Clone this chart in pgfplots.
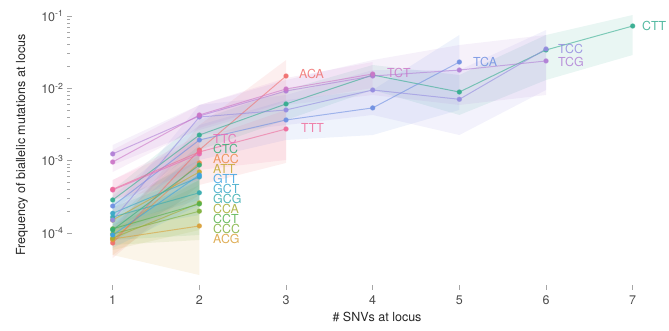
\documentclass[border=0pt]{standalone}
\usepackage{pgfplots}
\pgfplotsset{compat=1.18}
\usepackage{pgfplotstable}
\usepgfplotslibrary{fillbetween}
\usepackage{fontspec}
\setmainfont{TeX Gyre Heros}

\definecolor{cACA}{HTML}{F0706F}
\definecolor{cACC}{HTML}{EC8A48}
\definecolor{cACG}{HTML}{D9A03A}
\definecolor{cATT}{HTML}{C4A831}
\definecolor{cCCA}{HTML}{A6AC33}
\definecolor{cCCC}{HTML}{7FB03C}
\definecolor{cCCT}{HTML}{55B14A}
\definecolor{cCTC}{HTML}{36AE75}
\definecolor{cCTT}{HTML}{35AD90}
\definecolor{cGCG}{HTML}{37ABAE}
\definecolor{cGCT}{HTML}{39A8C8}
\definecolor{cGTT}{HTML}{3CA3E2}
\definecolor{cTCA}{HTML}{6F90E2}
\definecolor{cTCC}{HTML}{958CE0}
\definecolor{cTCG}{HTML}{B17FD6}
\definecolor{cTCT}{HTML}{CC77C8}
\definecolor{cTTC}{HTML}{E96BB6}
\definecolor{cTTT}{HTML}{EE6C9C}

\pgfplotstableread{
x y lo hi
1 7.27e-5 4.5e-5 1.03e-4
2 1.404e-3 4.61e-4 3.11e-3
3 1.48e-2 9.3e-4 2.46e-2
}\tACA
\pgfplotstableread{
x y lo hi
1 8.0e-5 4.96e-5 1.18e-4
2 9.3e-4 3.35e-4 2.26e-3
}\tACC
\pgfplotstableread{
x y lo hi
1 8.26e-5 4.96e-5 1.18e-4
2 1.25e-4 2.62e-5 3.35e-4
}\tACG
\pgfplotstableread{
x y lo hi
1 1.51e-4 9.38e-5 2.08e-4
2 6.98e-4 3.35e-4 1.197e-3
}\tATT
\pgfplotstableread{
x y lo hi
1 8.5e-5 5.82e-5 1.18e-4
2 2.6e-4 1.10e-4 5.4e-4
}\tCCA
\pgfplotstableread{
x y lo hi
1 9.68e-5 6.82e-5 1.29e-4
2 2.0e-4 8.0e-5 4.61e-4
}\tCCC
\pgfplotstableread{
x y lo hi
1 1.14e-4 8.0e-5 1.51e-4
2 2.52e-4 9.38e-5 5.4e-4
}\tCCT
\pgfplotstableread{
x y lo hi
1 1.10e-4 7.5e-5 1.51e-4
2 8.71e-4 3.93e-4 1.646e-3
}\tCTC
\pgfplotstableread{
x y lo hi
1 2.86e-4 2.08e-4 3.93e-4
2 2.26e-3 1.404e-3 3.65e-3
3 6.08e-3 3.65e-3 9.48e-3
4 1.528e-2 9.48e-3 2.10e-2
5 8.89e-3 4.28e-3 1.528e-2
6 3.39e-2 1.303e-2 5.46e-2
7 7.27e-2 2.89e-2 0.1032
}\tCTT
\pgfplotstableread{
x y lo hi
1 1.66e-4 1.10e-4 2.28e-4
2 3.6e-4 1.77e-4 6.33e-4
}\tGCG
\pgfplotstableread{
x y lo hi
1 1.87e-4 1.29e-4 2.6e-4
2 5.94e-4 2.86e-4 1.021e-3
}\tGCT
\pgfplotstableread{
x y lo hi
1 9.38e-5 6.2e-5 1.29e-4
2 6.33e-4 2.44e-4 1.404e-3
}\tGTT
\pgfplotstableread{
x y lo hi
1 2.36e-4 1.6e-4 3.25e-4
2 1.93e-3 1.021e-3 3.11e-3
3 3.65e-3 1.93e-3 6.90e-3
4 5.36e-3 2.26e-3 9.48e-3
5 2.31e-2 5.02e-3 5.46e-2
}\tTCA
\pgfplotstableread{
x y lo hi
1 1.51e-4 1.03e-4 2.08e-4
2 4.01e-3 2.26e-3 5.88e-3
3 5.02e-3 3.11e-3 8.08e-3
4 9.48e-3 4.28e-3 1.79e-2
5 7.05e-3 2.26e-3 1.79e-2
6 3.50e-2 9.48e-3 6.40e-2
}\tTCC
\pgfplotstableread{
x y lo hi
1 1.24e-3 8.71e-4 1.646e-3
2 4.14e-3 2.65e-3 5.88e-3
3 9.18e-3 5.88e-3 1.303e-2
4 1.48e-2 8.08e-3 2.46e-2
5 1.79e-2 5.88e-3 3.97e-2
6 2.39e-2 8.08e-3 5.46e-2
}\tTCG
\pgfplotstableread{
x y lo hi
1 9.58e-4 6.97e-4 1.404e-3
2 4.28e-3 2.83e-3 5.88e-3
3 9.79e-3 6.5e-3 1.39e-2
4 1.578e-2 1.01e-2 2.31e-2
}\tTCT
\pgfplotstableread{
x y lo hi
1 3.93e-4 2.86e-4 5.4e-4
2 1.24e-3 5.4e-4 2.26e-3
}\tTTC
\pgfplotstableread{
x y lo hi
1 4.02e-4 2.86e-4 5.4e-4
2 1.32e-3 7.43e-4 1.93e-3
3 2.74e-3 1.021e-3 5.02e-3
}\tTTT

\newcommand{\ser}[2]{%
  \addplot[draw=none, forget plot, name path=#1H] table[x=x,y=hi]{#2};
  \addplot[draw=none, forget plot, name path=#1L] table[x=x,y=lo]{#2};
  \addplot[fill=c#1, fill opacity=0.11, draw=none, forget plot] fill between[of=#1H and #1L];
  \addplot[c#1, draw opacity=0.6, line width=1pt, mark=*, mark size=2.2pt,
    mark options={draw=none, fill=c#1, fill opacity=0.95}] table[x=x,y=y]{#2};
}
\newcommand{\lbl}[3]{%
  \node[anchor=west, inner sep=0pt, text=c#1, text opacity=0.85,
    font=\fontsize{12.4}{13}\selectfont] at (axis cs:#2,#3) {#1};
}

\begin{document}
\begin{tikzpicture}
\begin{axis}[
  at={(0,0)}, anchor=south west,
  scale only axis, width=602pt, height=290pt,
  xmin=0.4727, xmax=7.419,
  ymode=log, ymin=1.628e-5, ymax=0.1664,
  xtick={1,2,3,4,5,6,7},
  ytick={1e-4,1e-3,1e-2,1e-1},
  yticklabels={10\textsuperscript{-4},10\textsuperscript{-3},10\textsuperscript{-2},10\textsuperscript{-1}},
  /pgf/number format/assume math mode=true,
  axis line style={draw=none},
  tick style={color=black!35, line width=0.8pt},
  major tick length=5pt, minor tick length=2.5pt,
  tick align=inside,
  xtick pos=bottom, ytick pos=left,
  tick label style={font=\fontsize{12.5}{14}\selectfont, text=black!70},
  xticklabel style={yshift=-2pt},
  label style={font=\fontsize{12.5}{14}\selectfont, text=black!85},
  xlabel={\# SNVs at locus},
  ylabel={Frequency of biallelic mutations at locus},
  xlabel style={at={(axis description cs:0.515,-0.093)}, anchor=center},
  ylabel style={at={(axis description cs:-0.0748,0.5)}, anchor=center},
  clip=false,
]
\ser{ACA}{\tACA}
\ser{ACC}{\tACC}
\ser{ACG}{\tACG}
\ser{ATT}{\tATT}
\ser{CCA}{\tCCA}
\ser{CCC}{\tCCC}
\ser{CCT}{\tCCT}
\ser{CTC}{\tCTC}
\ser{CTT}{\tCTT}
\ser{GCG}{\tGCG}
\ser{GCT}{\tGCT}
\ser{GTT}{\tGTT}
\ser{TCA}{\tTCA}
\ser{TCC}{\tTCC}
\ser{TCG}{\tTCG}
\ser{TCT}{\tTCT}
\ser{TTC}{\tTTC}
\ser{TTT}{\tTTT}

\lbl{TTC}{2.157}{1.99e-3}
\lbl{CTC}{2.157}{1.45e-3}
\lbl{ACC}{2.157}{1.054e-3}
\lbl{ATT}{2.157}{7.67e-4}
\lbl{GTT}{2.157}{5.58e-4}
\lbl{GCT}{2.157}{4.06e-4}
\lbl{GCG}{2.157}{2.95e-4}
\lbl{CCA}{2.157}{2.15e-4}
\lbl{CCT}{2.157}{1.563e-4}
\lbl{CCC}{2.157}{1.137e-4}
\lbl{ACG}{2.157}{8.27e-5}
\lbl{ACA}{3.150}{1.578e-2}
\lbl{TTT}{3.173}{2.83e-3}
\lbl{TCT}{4.165}{1.628e-2}
\lbl{TCA}{5.157}{2.31e-2}
\lbl{TCC}{6.138}{3.50e-2}
\lbl{TCG}{6.138}{2.31e-2}
\lbl{CTT}{7.107}{7.27e-2}
\end{axis}
\pgfresetboundingbox
\path (-67pt,-41pt) rectangle (602pt,290pt);
\end{tikzpicture}
\end{document}
